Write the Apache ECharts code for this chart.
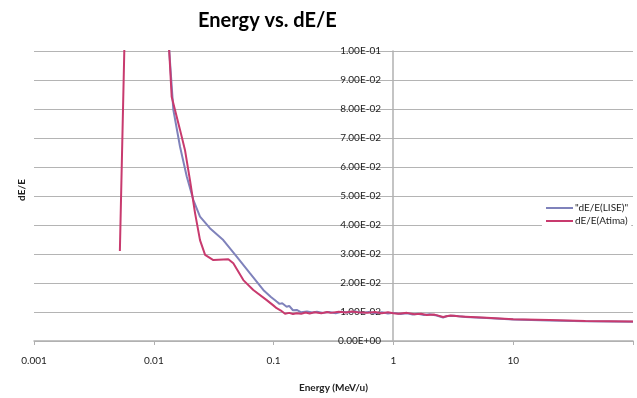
<!DOCTYPE html>
<html>
<head>
<meta charset="utf-8">
<title>Energy vs. dE/E</title>
<script src="https://cdn.jsdelivr.net/npm/echarts@6/dist/echarts.min.js"></script>
<style>
  html, body { margin: 0; padding: 0; background: #fff; }
  #chart { width: 637px; height: 398px; }
</style>
</head>
<body>
<div id="chart"></div>
<script>
  // 数据：能量 (MeV/u) 和 dE/E
  const energyLise = [0.0132, 0.01456, 0.01656, 0.01884, 0.0214, 0.0243, 0.0294, 0.038, 0.0492, 0.0636, 0.082, 0.095, 0.106, 0.112, 0.118, 0.1285, 0.135, 0.145, 0.156, 0.17, 0.19, 0.21, 0.23, 0.26, 0.29, 0.33, 0.37, 0.42, 0.48, 0.55, 0.62, 0.7, 0.8, 0.9, 1.0, 1.15, 1.3, 1.45, 1.6, 1.8, 2.0, 2.3, 2.6, 2.8, 3.2, 4, 6, 10, 20, 40, 100];
  const dELise = [0.105, 0.0797, 0.067, 0.0567, 0.0486, 0.0429, 0.0389, 0.0348, 0.0291, 0.0233, 0.0176, 0.0152, 0.0136, 0.0128, 0.0130, 0.0118, 0.0121, 0.0106, 0.0107, 0.0099, 0.0102, 0.0098, 0.0101, 0.0097, 0.0100, 0.0096, 0.0101, 0.0098, 0.0102, 0.0097, 0.0100, 0.0096, 0.0099, 0.0095, 0.0097, 0.0093, 0.0096, 0.0091, 0.0094, 0.0090, 0.0092, 0.0088, 0.0081, 0.0086, 0.0087, 0.0083, 0.0079, 0.0074, 0.0071, 0.0068, 0.0066];

  const energyAtima = [0.00521, 0.0057, 0.008, 0.0125, 0.01345, 0.0141, 0.01656, 0.0182, 0.02004, 0.0221, 0.0243, 0.0268, 0.0314, 0.0419, 0.0461, 0.0559, 0.0677, 0.0876, 0.1, 0.106, 0.115, 0.1245, 0.135, 0.145, 0.156, 0.17, 0.185, 0.2, 0.22, 0.25, 0.28, 0.3, 0.35, 0.4, 0.45, 0.5, 0.6, 0.7, 0.8, 0.9, 1.0, 1.1, 1.3, 1.5, 1.7, 1.9, 2.2, 2.6, 3.0, 3.5, 4, 6, 10, 20, 40, 100];
  const dEAtima = [0.031, 0.104, 0.5, 0.15, 0.1, 0.0842, 0.0728, 0.0659, 0.0555, 0.0441, 0.0348, 0.0297, 0.0279, 0.0282, 0.0268, 0.0210, 0.0176, 0.0141, 0.0122, 0.0113, 0.0105, 0.0094, 0.0097, 0.0093, 0.0096, 0.0094, 0.0098, 0.0095, 0.0099, 0.0096, 0.0100, 0.0097, 0.0101, 0.0098, 0.0102, 0.0099, 0.0097, 0.0100, 0.0096, 0.0099, 0.0096, 0.0094, 0.0097, 0.0092, 0.0094, 0.0090, 0.0091, 0.0083, 0.0088, 0.0085, 0.0084, 0.0080, 0.0075, 0.0072, 0.0069, 0.0067];

  const legendNames = ['"dE/E(LISE)"', 'dE/E(Atima)'];
  const xTickLabels = ['0.001', '0.01', '0.1', '1', '10', ''];

  function pairs(xs, ys) {
    return xs.map(function (x, i) { return [x, ys[i]]; });
  }

  // 1.00E-01 这种格式
  function sci(v) {
    if (v === 0) return '0.00E+00';
    const e = Math.floor(Math.log10(Math.abs(v)) + 1e-9);
    const m = v / Math.pow(10, e);
    const sign = e < 0 ? '-' : '+';
    const ee = Math.abs(e) < 10 ? '0' + Math.abs(e) : '' + Math.abs(e);
    return m.toFixed(2) + 'E' + sign + ee;
  }

  const font = 'Lato, "Open Sans", sans-serif';

  const option = {
    animation: false,
    color: ['#7f82bb', '#c83a6e'],
    title: {
      text: 'Energy vs. dE/E',
      left: 193,
      top: 6,
      textStyle: { fontFamily: font, fontSize: 20, fontWeight: 'bold', color: '#000' }
    },
    legend: {
      data: legendNames,
      orient: 'vertical',
      left: 542,
      top: 200,
      padding: [3, 3, 3, 4],
      itemGap: 3,
      itemWidth: 27,
      itemHeight: 2,
      icon: 'rect',
      backgroundColor: '#fff',
      textStyle: { fontFamily: font, fontSize: 10, color: '#222', padding: [0, 0, 0, -3] }
    },
    grid: {
      left: 34,
      right: 4,
      top: 51,
      bottom: 57
    },
    // 纵轴名称（旋转）
    graphic: [{
      type: 'text',
      x: 22,
      y: 190,
      rotation: Math.PI / 2,
      style: {
        text: 'dE/E',
        font: 'bold 10px ' + font,
        fill: '#222',
        textAlign: 'center',
        textVerticalAlign: 'middle'
      }
    }],
    xAxis: {
      type: 'log',
      logBase: 10,
      min: 0.001,
      max: 100,
      name: 'Energy (MeV/u)',
      nameLocation: 'middle',
      nameGap: 42,
      nameTextStyle: { fontFamily: font, fontSize: 10, fontWeight: 'bold', color: '#222' },
      axisLine: { lineStyle: { color: '#b0b0b0', width: 1.5 } },
      axisTick: { show: true, length: 4, lineStyle: { color: '#b0b0b0' } },
      splitLine: { show: false },
      minorTick: { show: false },
      axisLabel: {
        fontFamily: font,
        fontSize: 10,
        color: '#222',
        margin: 15,
        formatter: function (v, i) { return xTickLabels[i] || ''; }
      }
    },
    // 纵轴放在 x=1 的位置
    yAxis: {
      type: 'value',
      min: 0,
      max: 0.1,
      interval: 0.01,
      position: 'left',
      offset: -359,
      axisLine: { show: true, lineStyle: { color: '#b0b0b0', width: 1.5 } },
      axisTick: { show: false },
      splitLine: { lineStyle: { color: '#b4b4b4', width: 1.2 } },
      axisLabel: {
        fontFamily: font,
        fontSize: 10,
        color: '#222',
        margin: 12,
        formatter: sci
      }
    },
    series: [
      {
        name: legendNames[0],
        type: 'line',
        symbol: 'none',
        clip: true,
        lineStyle: { width: 2 },
        data: pairs(energyLise, dELise)
      },
      {
        name: legendNames[1],
        type: 'line',
        symbol: 'none',
        clip: true,
        lineStyle: { width: 2 },
        data: pairs(energyAtima, dEAtima)
      }
    ]
  };

  const myChart = echarts.init(document.getElementById('chart'));
  myChart.setOption(option);
  window.addEventListener('resize', function () { myChart.resize(); });
</script>
</body>
</html>
